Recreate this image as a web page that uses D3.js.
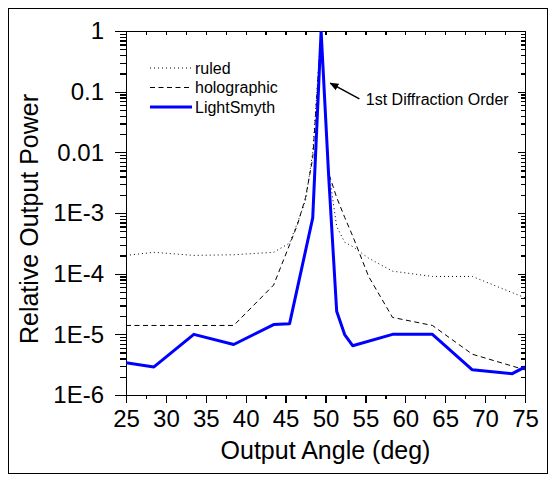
<!DOCTYPE html>
<meta charset="utf-8">
<style>
body { margin: 0; background: #fff; }
text { font-family: "Liberation Sans", Arial, sans-serif; fill: #000; }
.axis path, .axis line { stroke: #000; stroke-width: 1.3px; shape-rendering: crispEdges; }
</style>
<body>
<svg id="graph"></svg>
<script src="https://d3js.org/d3.v7.min.js"></script>
<script>

// data
var ruledAngle = [25, 28.5, 33.5, 38.5, 43.5, 45.5, 46.5, 47.5, 48.4, 49.45, 50.4, 51.4, 52.4, 53.4, 55.4, 58.4, 63.4, 68.4, 75];
var ruledPower = [2.0e-4, 2.25e-4, 2.0e-4, 2.05e-4, 2.25e-4, 3.2e-4, 7e-4, 1.6e-3, 1.0e-2, 1, 5e-3, 6e-4, 3.3e-4, 2.8e-4, 1.8e-4, 1.1e-4, 9e-5, 9e-5, 4e-5];

var holoAngle = [25, 28.5, 33.5, 38.5, 43.5, 45.5, 46.5, 47.5, 48.4, 49.45, 50.4, 51.4, 52.4, 53.4, 55.4, 58.4, 63.4, 68.4, 75];
var holoPower = [1.4e-5, 1.4e-5, 1.4e-5, 1.4e-5, 6.5e-5, 3.0e-4, 6.5e-4, 1.8e-3, 8e-3, 1, 4.5e-3, 1.8e-3, 8.5e-4, 4.2e-4, 9e-5, 1.9e-5, 1.4e-5, 4.7e-6, 2.6e-6];

var lightAngle = [25, 28.5, 33.5, 38.5, 43.5, 45.5, 48.4, 49.45, 50.4, 51.4, 52.4, 53.4, 58.4, 63.4, 68.4, 73.4, 75];
var lightPower = [3.4e-6, 2.9e-6, 1.0e-5, 6.8e-6, 1.45e-5, 1.5e-5, 8.3e-4, 1, 4e-3, 2.4e-5, 9.9e-6, 6.5e-6, 1.0e-5, 1.0e-5, 2.6e-6, 2.25e-6, 2.9e-6];

var xTicks = [25, 30, 35, 40, 45, 50, 55, 60, 65, 70, 75];
var yTicks = [1, 0.1, 0.01, 1e-3, 1e-4, 1e-5, 1e-6];
var yTickLabels = ["1", "0.1", "0.01", "1E-3", "1E-4", "1E-5", "1E-6"];

var seriesNames = ["ruled", "holographic", "LightSmyth"];

// annotation: arrow tail, arrow head, text start (data coords)
var noteText = "1st Diffraction Order";
var noteTail = [54.25, 0.076];
var noteHead = [50.6, 0.138];
var noteAt = [55.05, 0.06];

// dimensions
var W = 552, H = 480;
var margin = {top: 31, right: 27, bottom: 85, left: 126},
    width = W - margin.left - margin.right,
    height = H - margin.top - margin.bottom;

var svg0 = d3.select("#graph").attr("width", W).attr("height", H);

// outer frame
svg0.append("rect")
    .attr("x", 8.5).attr("y", 8.5)
    .attr("width", 539).attr("height", 465)
    .attr("fill", "none").attr("stroke", "#000").attr("stroke-width", 1);

var svg = svg0.append("g")
    .attr("transform", "translate(" + margin.left + "," + margin.top + ")");

var x = d3.scaleLinear().domain([25, 75]).range([0, width]);
var y = d3.scaleLog().domain([1e-6, 1]).range([height, 0]);

svg.append("clipPath").attr("id", "clip")
  .append("rect").attr("width", width).attr("height", height);

// minor ticks
var xMinor = d3.range(27.5, 75, 5);
var yMinor = [];
for (var e = -6; e < 0; e++) {
  for (var k = 2; k <= 9; k++) yMinor.push(k * Math.pow(10, e));
}

// bottom axis
svg.append("g").attr("class", "axis")
    .attr("transform", "translate(0," + height + ")")
    .call(d3.axisBottom(x).tickValues(xTicks).tickSize(8).tickSizeOuter(0).tickFormat(d3.format("d")))
    .call(function(g) {
      g.selectAll("text").attr("y", 15).style("font-size", "24px");
    });
svg.append("g").attr("class", "axis")
    .attr("transform", "translate(0," + height + ")")
    .call(d3.axisBottom(x).tickValues(xMinor).tickSize(4).tickFormat(""))
    .select(".domain").remove();

// top axis
svg.append("g").attr("class", "axis")
    .call(d3.axisBottom(x).tickValues(d3.range(25, 75.1, 2.5)).tickSize(4).tickSizeOuter(0).tickFormat(""));

// left axis
svg.append("g").attr("class", "axis")
    .call(d3.axisLeft(y).tickValues(yTicks).tickSize(11).tickSizeOuter(0)
      .tickFormat(function(d, i) { return yTickLabels[i]; }))
    .call(function(g) {
      g.selectAll("text").attr("x", -22).style("font-size", "24px");
    });
svg.append("g").attr("class", "axis")
    .call(d3.axisLeft(y).tickValues(yMinor).tickSize(6).tickFormat(""))
    .select(".domain").remove();

// right axis
svg.append("g").attr("class", "axis")
    .attr("transform", "translate(" + width + ",0)")
    .call(d3.axisLeft(y).tickValues(yTicks).tickSize(7).tickSizeOuter(0).tickFormat(""));
svg.append("g").attr("class", "axis")
    .attr("transform", "translate(" + width + ",0)")
    .call(d3.axisLeft(y).tickValues(yMinor).tickSize(4).tickFormat(""))
    .select(".domain").remove();

// lines
var line = d3.line()
    .x(function(d) { return x(d[0]); })
    .y(function(d) { return y(d[1]); });

var styles = [
  {stroke: "#000", width: 1, dash: "1,3"},
  {stroke: "#000", width: 1, dash: "5,3.5"},
  {stroke: "#0000ff", width: 3, dash: null}
];
var series = [
  d3.zip(ruledAngle, ruledPower),
  d3.zip(holoAngle, holoPower),
  d3.zip(lightAngle, lightPower)
];

series.forEach(function(s, i) {
  svg.append("path")
      .datum(s)
      .attr("clip-path", "url(#clip)")
      .attr("fill", "none")
      .attr("stroke", styles[i].stroke)
      .attr("stroke-width", styles[i].width)
      .attr("stroke-dasharray", styles[i].dash)
      .attr("stroke-linejoin", "round")
      .attr("d", line);
});

// legend
var legend = svg.selectAll(".legend")
    .data(seriesNames)
  .enter().append("g")
    .attr("class", "legend")
    .attr("transform", function(d, i) { return "translate(24," + (37 + i * 19.5) + ")"; });

legend.append("line")
    .attr("x1", 0).attr("x2", 42)
    .attr("stroke", function(d, i) { return styles[i].stroke; })
    .attr("stroke-width", function(d, i) { return styles[i].width; })
    .attr("stroke-dasharray", function(d, i) { return styles[i].dash; });

legend.append("text")
    .attr("x", 45)
    .attr("dy", "0.35em")
    .style("font-size", "16px")
    .text(function(d) { return d; });

// annotation
svg.append("defs").append("marker")
    .attr("id", "arrow")
    .attr("viewBox", "0 0 10 10")
    .attr("refX", 9).attr("refY", 5)
    .attr("markerWidth", 9).attr("markerHeight", 9)
    .attr("markerUnits", "userSpaceOnUse")
    .attr("orient", "auto")
  .append("path")
    .attr("d", "M0,1L10,5L0,9Z")
    .attr("fill", "#000");

svg.append("line")
    .attr("x1", x(noteTail[0])).attr("y1", y(noteTail[1]))
    .attr("x2", x(noteHead[0])).attr("y2", y(noteHead[1]))
    .attr("stroke", "#000").attr("stroke-width", 1.5)
    .attr("marker-end", "url(#arrow)");

svg.append("text")
    .attr("x", x(noteAt[0])).attr("y", y(noteAt[1]))
    .style("font-size", "16px")
    .text(noteText);

// axis titles
svg.append("text")
    .attr("x", width / 2)
    .attr("y", height + 64)
    .attr("text-anchor", "middle")
    .style("font-size", "25px")
    .text("Output Angle (deg)");

svg.append("text")
    .attr("transform", "translate(" + (-88) + "," + (height / 2 + 6) + ") rotate(-90)")
    .attr("text-anchor", "middle")
    .style("font-size", "25px")
    .text("Relative Output Power");

</script>
</body>
